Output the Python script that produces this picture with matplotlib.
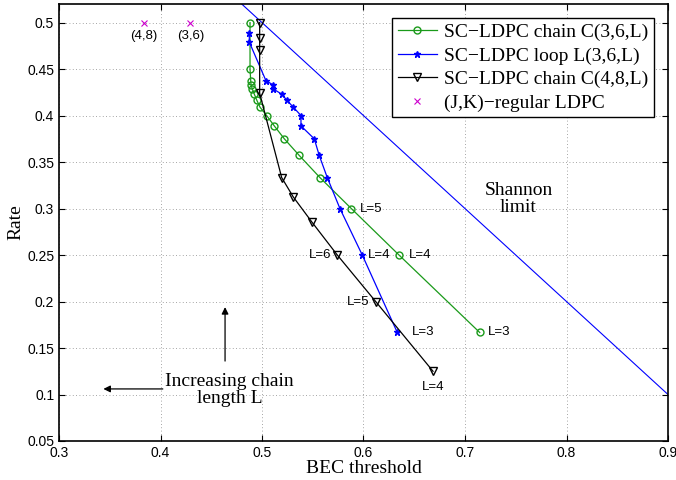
import matplotlib
matplotlib.use("Agg")
import matplotlib.pyplot as plt

c36_x = [0.4882, 0.4882, 0.4889, 0.4892, 0.4904, 0.4924, 0.4948, 0.498, 0.5046, 0.5121, 0.522, 0.5367, 0.5571, 0.588, 0.635, 0.7145]
c36_y = [0.5, 0.45, 0.4375, 0.4333, 0.4286, 0.4231, 0.4167, 0.4091, 0.4, 0.3889, 0.375, 0.3571, 0.3333, 0.3, 0.25, 0.1667]
l36_x = [0.4875, 0.4875, 0.5039, 0.5105, 0.5111, 0.5194, 0.5243, 0.5308, 0.5384, 0.5384, 0.5515, 0.5564, 0.5643, 0.5768, 0.5988, 0.6333]
l36_y = [0.489, 0.479, 0.4375, 0.4333, 0.4286, 0.4231, 0.4167, 0.4091, 0.4, 0.3889, 0.375, 0.3571, 0.3333, 0.3, 0.25, 0.1667]
c48_x = [0.4977, 0.4977, 0.4977, 0.4977, 0.5194, 0.5308, 0.549, 0.5742, 0.612, 0.6685]
c48_y = [0.5, 0.483, 0.47, 0.424, 0.3333, 0.3125, 0.2857, 0.25, 0.2, 0.125]
reg_x = [0.3834, 0.4294]
reg_y = [0.5, 0.5]
reg_labels = ["(4,8)", "(3,6)"]
shannon_x = [0.48, 0.9]

sans = "Liberation Sans"
serif = "Liberation Serif"

fig = plt.figure(figsize=(6.76, 4.8), dpi=100)
ax = fig.add_axes([59/676, 1-441/480, (668-59)/676, (441-4)/480])

ax.plot(shannon_x, [1-x for x in shannon_x], color="blue", lw=0.8)
ax.plot(c36_x, c36_y, color="#1a9a1a", lw=0.9, marker="o", ms=5, mfc="none", label="SC\u2212LDPC chain C(3,6,L)")
ax.plot(l36_x, l36_y, color="blue", lw=0.9, marker="*", ms=5, label="SC\u2212LDPC loop L(3,6,L)")
ax.plot(c48_x, c48_y, color="black", lw=0.9, marker="v", ms=6, mfc="none", label="SC\u2212LDPC chain C(4,8,L)")
ax.plot(reg_x, reg_y, ls="none", color="#cc00cc", marker="x", ms=4, mew=0.8, label="(J,K)\u2212regular LDPC")
for x, y, t in zip(reg_x, reg_y, reg_labels):
    ax.text(x, y-0.008, t, ha="center", va="top", fontsize=9.5, family=sans)

fs = 9.5
def lab(x, y, t, dx=0.0, dy=0.0, ha="left", va="center"):
    ax.text(x+dx, y+dy, t, ha=ha, va=va, fontsize=fs, family=sans)
lab(c36_x[13], c36_y[13], "L=5", dx=0.008)
lab(c36_x[14], c36_y[14], "L=4", dx=0.01)
lab(c36_x[15], c36_y[15], "L=3", dx=0.008)
lab(l36_x[14], l36_y[14], "L=4", dx=0.006)
lab(l36_x[15], l36_y[15], "L=3", dx=0.014)
lab(c48_x[7], c48_y[7], "L=6", dx=-0.006, ha="right")
lab(c48_x[8], c48_y[8], "L=5", dx=-0.006, ha="right")
lab(c48_x[9], c48_y[9], "L=4", dy=-0.01, ha="center", va="top")

ax.text(0.7527, 0.31, "Shannon\nlimit", ha="center", va="center", fontsize=14, family=serif, linespacing=1.0)
ax.text(0.468, 0.105, "Increasing chain\nlength L", ha="center", va="center", fontsize=14, family=serif, linespacing=1.0)
ax.annotate("", xy=(0.4636, 0.197), xytext=(0.4636, 0.133),
            arrowprops=dict(arrowstyle="-|>", color="black", lw=0.9, mutation_scale=10))
ax.annotate("", xy=(0.341, 0.106), xytext=(0.405, 0.106),
            arrowprops=dict(arrowstyle="-|>", color="black", lw=0.9, mutation_scale=10))

ax.set_xlim(0.3, 0.9)
ax.set_ylim(0.05, 0.52)
ax.set_xticks([0.3, 0.4, 0.5, 0.6, 0.7, 0.8, 0.9])
ax.set_xticklabels(["0.3", "0.4", "0.5", "0.6", "0.7", "0.8", "0.9"])
ax.set_yticks([0.05, 0.1, 0.15, 0.2, 0.25, 0.3, 0.35, 0.4, 0.45, 0.5])
ax.set_yticklabels(["0.05", "0.1", "0.15", "0.2", "0.25", "0.3", "0.35", "0.4", "0.45", "0.5"])
ax.tick_params(direction="in", top=True, right=True, labelsize=10, length=4)
for l in ax.get_xticklabels() + ax.get_yticklabels():
    l.set_family(sans)
ax.grid(True, ls=(0, (1, 3)), color="#888888", lw=0.6)
for s in ax.spines.values():
    s.set_linewidth(1.2)
ax.set_xlabel("BEC threshold", fontsize=14, family=serif, labelpad=0)
ax.set_ylabel("Rate", fontsize=14, family=serif, labelpad=2)
leg = ax.legend(loc="upper right", prop=dict(family=serif, size=14), fancybox=False,
                edgecolor="black", framealpha=1, handlelength=2.0, borderpad=0.3,
                labelspacing=0.3, handletextpad=0.4, borderaxespad=0.7)
leg.get_frame().set_linewidth(1.0)
fig.savefig("out.png", dpi=100)
